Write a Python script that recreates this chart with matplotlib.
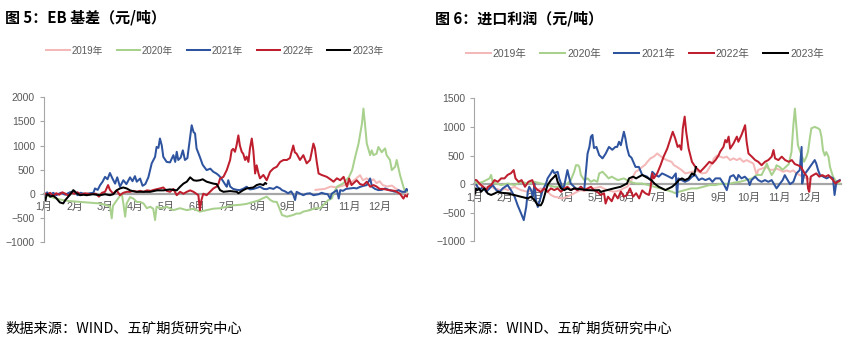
import matplotlib.pyplot as plt

plt.rcParams['font.family'] = ['Liberation Sans', 'Noto Sans CJK SC', 'DejaVu Sans']

# month labels on the category axis (positions are in months from Jan 1)
months = ['1月', '2月', '3月', '4月', '5月', '6月', '7月', '8月', '9月', '10月', '11月', '12月']
years = ['2019年', '2020年', '2021年', '2022年', '2023年']
colors = ['#F4B8B8', '#A9D18E', '#2E54A0', '#BE1E2D', '#000000']

# ---- 图5 EB基差 (x = month position, y = 元/吨)
eb_x_2019 = [8.9, 9.2, 9.4, 9.6, 9.8, 10.0, 10.2, 10.36, 10.45, 10.58, 10.7, 10.8, 10.9, 11.0, 11.1,
             11.25, 11.4, 11.55, 11.7, 11.85, 11.95]
eb_y_2019 = [80, 100, 150, 130, 170, 200, 300, 385, 280, 320, 260, 300, 220, 260, 180,
             150, 170, 100, 50, 20, -30]

eb_x_2020 = [0.05, 0.2, 0.4, 0.6, 0.8, 1.0, 1.2, 1.4, 1.6, 1.8, 2.0, 2.16, 2.22, 2.26, 2.38, 2.48, 2.55,
             2.6, 2.66, 2.71, 2.82, 2.93, 3.04, 3.15, 3.26, 3.37, 3.48, 3.58, 3.64, 3.69, 3.86, 4.02,
             4.24, 4.46, 4.68, 4.9, 5.11, 5.33, 5.55, 5.77, 5.99, 6.2, 6.42, 6.64, 6.86, 7.03, 7.15,
             7.3, 7.42, 7.52, 7.63, 7.74, 7.8, 7.96, 8.17, 8.28, 8.39, 8.5, 8.72, 8.88, 9.05, 9.21,
             9.32, 9.43, 9.49, 9.6, 9.7, 9.81, 10.0, 10.1, 10.2, 10.31, 10.42, 10.47, 10.52, 10.58,
             10.69, 10.74, 10.8, 10.9, 10.96, 11.07, 11.12, 11.18, 11.23, 11.34, 11.4, 11.51, 11.56,
             11.67, 11.78, 11.84, 11.93]
eb_y_2020 = [-30, -60, -100, -130, -150, -160, -170, -180, -190, -200, -230, -260, -510, -250, -140, -50, 0,
             -200, -475, -200, -70, -100, -170, -170, -200, -300, -270, -310, -545, -270, -300, -270,
             -340, -300, -340, -310, -370, -340, -310, -300, -270, -240, -230, -210, -170, -140, -100,
             -60, -130, -165, -170, -340, -440, -475, -440, -410, -410, -370, -340, -300, -300, -200,
             -130, -100, 0, 145, 180, 215, 350, 490, 765, 1040, 1450, 1765, 1450, 1040,
             800, 900, 800, 830, 970, 860, 900, 940, 800, 700, 490, 560, 700,
             385, 145, 40, 50]

eb_x_2021 = [0.05, 0.1, 0.2, 0.3, 0.4, 0.55, 0.7, 0.85, 1.0, 1.1, 1.2, 1.35, 1.5, 1.62, 1.67, 1.76, 1.84,
             1.92, 2.0, 2.08, 2.16, 2.24, 2.33, 2.4, 2.49, 2.55, 2.6, 2.7, 2.82, 2.9, 2.98, 3.04, 3.15,
             3.23, 3.32, 3.42, 3.53, 3.64, 3.69, 3.75, 3.8, 3.86, 3.91, 4.02, 4.13, 4.24, 4.3, 4.35,
             4.4, 4.48, 4.55, 4.62, 4.7, 4.77, 4.84, 4.9, 4.95, 5.0, 5.11, 5.2, 5.33, 5.45, 5.55, 5.65,
             5.72, 5.8, 5.88, 5.95, 5.99, 6.04, 6.1, 6.2, 6.33, 6.42, 6.55, 6.64, 6.75, 6.86, 6.97,
             7.08, 7.2, 7.3, 7.4, 7.52, 7.63, 7.74, 7.8, 7.9, 8.0, 8.1, 8.17, 8.23, 8.28, 8.4, 8.5,
             8.6, 8.72, 8.83, 9.0, 9.1, 9.2, 9.3, 9.38, 9.43, 9.6, 9.66, 9.71, 9.8, 9.9, 10.03, 10.15,
             10.25, 10.35, 10.45, 10.58, 10.69, 10.75, 10.85, 10.96, 11.07, 11.18, 11.3, 11.4, 11.51,
             11.62, 11.73, 11.84, 11.88, 11.93]
eb_y_2021 = [-20, 30, -40, 20, -30, 20, -20, 30, 50, -30, 20, -10, 10, 20, 110, 80, 180,
             250, 350, 300, 430, 320, 210, 340, 145, 220, 280, 200, 340, 260, 365, 250, 315,
             165, 200, 340, 630, 765, 970, 950, 1145, 1000, 765, 660, 650, 800, 660, 870,
             700, 750, 900, 700, 740, 1075, 1420, 1280, 1250, 940, 760, 600, 490, 520, 455, 420,
             385, 330, 250, 180, 145, 280, 150, 100, 80, 75, 110, 145, 90, 100, 120,
             145, 100, 95, 120, 100, 145, 110, 75, 50, 10, 50, -20, -130, 40, 0, -30,
             0, 10, -30, -10, 20, 0, -10, -100, 0, 75, -100, 75, 60, 100, 110, 120,
             110, 140, 160, 180, 317, 145, 100, 75, 80, 110, 80, 60, 40,
             75, 40, 40, 100, 70]

eb_x_2022 = [0.05, 0.1, 0.2, 0.3, 0.4, 0.5, 0.6, 0.7, 0.8, 0.9, 1.0, 1.1, 1.2, 1.35, 1.5, 1.7, 1.8, 1.9,
             2.0, 2.1, 2.16, 2.27, 2.38, 2.49, 2.6, 2.71, 2.82, 2.93, 3.04, 3.15, 3.26, 3.37, 3.5, 3.6,
             3.8, 3.91, 4.02, 4.13, 4.24, 4.35, 4.46, 4.57, 4.68, 4.79, 4.9, 5.06, 5.11, 5.16, 5.22,
             5.33, 5.44, 5.55, 5.66, 5.72, 5.77, 5.88, 5.99, 6.1, 6.15, 6.2, 6.26, 6.31, 6.37, 6.42,
             6.48, 6.53, 6.59, 6.64, 6.7, 6.75, 6.81, 6.86, 6.92, 6.97, 7.03, 7.08, 7.19, 7.3, 7.41,
             7.52, 7.63, 7.74, 7.85, 7.96, 8.06, 8.17, 8.22, 8.28, 8.39, 8.5, 8.61, 8.72, 8.83, 8.88,
             8.94, 9.0, 9.1, 9.27, 9.43, 9.49, 9.6, 9.71, 9.82, 9.93, 10.0, 10.08, 10.25, 10.36, 10.47,
             10.58, 10.69, 10.8, 10.9, 11.0, 11.12, 11.3, 11.5, 11.67, 11.78, 11.84, 11.9, 11.93]
eb_y_2022 = [0, -30, 20, -50, 10, -20, 30, 0, -40, 20, 0, 30, -20, 10, -10, 0, -60, 20,
             40, 180, 80, 0, 70, -30, 20, 40, 40, 60, 40, 60, 40, 70, 60, 80,
             110, 130, 60, 40, 100, -30, 40, 0, 40, 70, 40, -30, -340, -130, 0,
             -30, 40, 110, 150, 210, 315, 350, 490, 700, 900, 930, 870, 1000, 1210, 1000,
             870, 830, 700, 770, 660, 940, 1145, 900, 420, 590, 420, 320, 390, 280, 455,
             525, 560, 660, 700, 700, 740, 1000, 860, 830, 700, 800, 630, 700, 1040, 940,
             660, 420, 390, 350, 280, 250, 320, 280, 350, 145, 315, 180, 280, 200, 180,
             250, 145, 180, 150, 100, 100, 75, 60, 0, -100, -30, -60, -20]

eb_x_2023 = [0.05, 0.07, 0.1, 0.15, 0.2, 0.3, 0.4, 0.52, 0.63, 0.7, 0.85, 0.96, 1.07, 1.18, 1.3, 1.4, 1.6,
             1.84, 2.0, 2.16, 2.27, 2.38, 2.49, 2.6, 2.71, 2.82, 2.93, 3.04, 3.26, 3.48, 3.7, 3.91, 4.13,
             4.35, 4.46, 4.57, 4.68, 4.79, 4.9, 5.0, 5.11, 5.2, 5.33, 5.44, 5.55, 5.66, 5.77, 5.88, 6.1,
             6.32, 6.37, 6.53, 6.64, 6.86, 6.97, 7.08, 7.19, 7.25, 7.28]
eb_y_2023 = [-130, -60, -10, -20, -60, -40, -90, -180, -200, -130, -20, 75, 10, -30, -20, -30, -10,
             -30, -10, -30, -10, 70, 110, 130, 110, 70, 50, 40, 40, 40, 70, 70, 90,
             70, 145, 210, 250, 340, 280, 270, 280, 300, 250, 230, 210, 200, 75, 40, 55,
             40, 10, 75, 110, 130, 180, 200, 180, 225, 210]

# ---- 图6 进口利润
ip_x_2019 = [0.05, 0.12, 0.23, 0.34, 0.45, 0.55, 0.66, 0.77, 0.88, 1.0, 1.1, 1.2, 1.32, 1.43, 1.53, 1.64,
             1.75, 1.86, 1.97, 2.08, 2.18, 2.29, 2.4, 2.51, 2.62, 2.73, 2.84, 2.95, 3.05, 3.16, 3.27,
             3.38, 3.49, 3.6, 3.71, 3.82, 3.92, 4.03, 4.14, 4.25, 4.36, 4.47, 4.58, 4.69, 4.79, 4.9,
             5.01, 5.12, 5.28, 5.39, 5.5, 5.6, 5.67, 5.77, 5.88, 5.99, 6.06, 6.2, 6.3, 6.46, 6.54,
             6.64, 6.78, 6.91, 7.02, 7.13, 7.3, 7.46, 7.6, 7.75, 7.85, 7.95, 8.05, 8.16, 8.27, 8.38,
             8.49, 8.6, 8.7, 8.81, 8.92, 9.03, 9.14, 9.2, 9.25, 9.3, 9.41, 9.57, 9.68, 9.79, 9.9, 10.0,
             10.12, 10.23, 10.34, 10.45, 10.55, 10.66, 10.77, 10.88, 11.0]
ip_y_2019 = [-20, 10, -17, -47, -75, -40, -75, -90, -105, -80, -105, -70, -47, -80, -105, -120,
             -135, -110, -135, -100, -75, -110, -135, -190, -220, -230, -250, -240, -220, -190, -163,
             -130, -105, -120, -105, -90, -75, -60, -47, -80, -105, -120, -135, -120, -105, -70,
             -47, 40, 215, 250, 300, 340, 390, 450, 480, 535, 505, 450, 420, 390, 330,
             300, 250, 187, 200, 215, 230, 187, 200, 330, 450, 500, 480, 460, 480, 420,
             450, 420, 450, 390, 420, 390, 360, 250, 157, 250, 270, 300, 250, 250, 270, 250,
             215, 240, 215, 240, 187, 157, 128, 100, 90]

ip_x_2020 = [0.03, 0.07, 0.17, 0.28, 0.39, 0.5, 0.55, 0.6, 0.72, 0.88, 1.1, 1.32, 1.53, 1.75, 1.97, 2.18,
             2.4, 2.62, 2.84, 3.05, 3.16, 3.27, 3.33, 3.4, 3.44, 3.49, 3.6, 3.71, 3.82, 3.92, 4.03,
             4.09, 4.2, 4.3, 4.4, 4.5, 4.6, 4.7, 4.9, 5.1, 5.3, 5.5, 5.7, 5.9, 6.1, 6.3, 6.48, 6.59,
             6.7, 6.9, 7.1, 7.3, 7.5, 7.7, 7.9, 8.1, 8.3, 8.5, 8.7, 8.9, 9.1, 9.25, 9.41, 9.52, 9.58,
             9.64, 9.74, 9.85, 9.9, 10.0, 10.1, 10.2, 10.3, 10.39, 10.45, 10.5, 10.55, 10.6, 10.7,
             10.8, 10.88, 10.93, 10.99, 11.04, 11.15, 11.26, 11.32, 11.37, 11.42, 11.48, 11.53, 11.6,
             11.65, 11.75, 11.86, 11.97]
ip_y_2020 = [70, 0, 20, 40, 70, 100, 160, 40, 10, -17, 10, -17, 40, 10, 40, 10,
             -17, -47, -47, 10, 70, 215, 330, 330, 300, 160, 70, 100, 40, 70, 40,
             187, 215, 160, 100, 130, 100, 70, 100, 40, 10, 10, -17, -47, -75, -105, -135, -160,
             -135, -105, -75, -75, -47, -17, -17, 10, 0, 25, 40, 70, 100, 160, 160, 275, 360,
             275, 157, 250, 330, 300, 250, 300, 350, 565, 1030, 1320, 1000, 680, 530,
             390, 480, 565, 800, 975, 1000, 975, 950, 830, 595, 500, 560, 480,
             300, 128, 40, 10]

ip_x_2021 = [0.07, 0.17, 0.28, 0.39, 0.5, 0.6, 0.72, 0.83, 0.93, 1.09, 1.2, 1.32, 1.42, 1.53, 1.62, 1.7,
             1.75, 1.8, 1.86, 1.92, 1.97, 2.02, 2.08, 2.13, 2.18, 2.24, 2.35, 2.4, 2.51, 2.57, 2.62,
             2.73, 2.78, 2.84, 2.89, 2.95, 3.05, 3.1, 3.16, 3.27, 3.38, 3.49, 3.6, 3.65, 3.71, 3.77,
             3.82, 3.87, 3.92, 4.0, 4.09, 4.2, 4.3, 4.41, 4.52, 4.62, 4.68, 4.74, 4.8, 4.9, 4.95, 5.0,
             5.07, 5.15, 5.28, 5.39, 5.5, 5.66, 5.77, 5.83, 5.93, 6.04, 6.15, 6.26, 6.37, 6.48, 6.6,
             6.64, 6.68, 6.9, 7.02, 7.13, 7.24, 7.35, 7.46, 7.57, 7.7, 7.8, 7.9, 8.05, 8.16, 8.27,
             8.38, 8.49, 8.6, 8.65, 8.75, 8.86, 8.97, 9.02, 9.08, 9.2, 9.3, 9.41, 9.52, 9.63, 9.74,
             9.9, 10.0, 10.1, 10.17, 10.23, 10.34, 10.45, 10.55, 10.66, 10.72, 10.74, 10.8, 10.92,
             11.03, 11.15, 11.2, 11.26, 11.32, 11.43, 11.54, 11.65, 11.75, 11.8, 11.86, 11.97]
ip_y_2021 = [-17, -105, -47, -135, -75, -17, -105, -135, -75, -17, -105, -220, -370, -510, -630, -400,
             -135, -47, -105, -220, 10, -280, -400, -310, -220, -105, 10, 100, 190, 245, 190,
             215, 100, 10, -105, -17, 245, 130, 10, -47, -105, -47, -105, 190, 535, 650,
             830, 860, 630, 650, 507, 450, 530, 650, 600, 650, 650, 740, 680, 915, 800, 640,
             500, 460, 300, 300, 160, 130, 70, 215, 160, 130, 187, 160, 130, 100, 187,
             -220, 100, 40, 70, 128, 160, 70, 100, 70, 100, 40, 100, 100, 10, -105,
             130, 157, 70, 160, 100, 130, 70, -17, 70, 130, 70, 40, 70, 40, 70,
             -75, 0, 70, 157, 100, 0, 40, 187, 245, 650, 10, 160, 245,
             330, 420, 360, 245, 160, 130, 100, 130, 100, -190, 40, 70]

ip_x_2022 = [0.03, 0.07, 0.17, 0.28, 0.39, 0.45, 0.55, 0.66, 0.77, 0.88, 0.99, 1.09, 1.2, 1.29, 1.35, 1.45,
             1.55, 1.66, 1.77, 1.9, 1.97, 2.08, 2.18, 2.29, 2.4, 2.51, 2.62, 2.73, 2.84, 2.95, 3.05,
             3.16, 3.27, 3.38, 3.49, 3.6, 3.71, 3.82, 3.92, 4.03, 4.14, 4.25, 4.3, 4.38, 4.5, 4.6, 4.7,
             4.8, 4.9, 5.0, 5.1, 5.2, 5.3, 5.4, 5.5, 5.6, 5.72, 5.77, 5.83, 5.88, 5.99, 6.1, 6.2,
             6.32, 6.43, 6.5, 6.58, 6.66, 6.72, 6.78, 6.83, 6.89, 6.94, 7.02, 7.13, 7.24, 7.4, 7.55,
             7.7, 7.8, 7.9, 8.0, 8.05, 8.16, 8.22, 8.27, 8.33, 8.38, 8.49, 8.6, 8.65, 8.76, 8.87, 8.92,
             8.98, 9.09, 9.2, 9.3, 9.41, 9.52, 9.63, 9.74, 9.8, 9.85, 9.96, 10.07, 10.18, 10.3, 10.4,
             10.5, 10.6, 10.7, 10.82, 10.9, 10.93, 10.97, 11.02, 11.1, 11.2, 11.3, 11.4, 11.5, 11.6,
             11.7, 11.75, 11.83, 11.9, 11.97]
ip_y_2022 = [70, 70, 10, -47, -105, -47, -17, 70, 40, 100, 100, 160, 190, 245, 100, 40,
             70, -47, 40, 70, -47, -105, -135, -75, -135, -75, -105, -75, -135, -75, -47,
             -105, -75, -105, -47, -105, -75, -47, -105, -135, -190, -160, -340, -220, -300, -170, -250,
             -130, -220, -190, -75, -220, -160, -250, -110, -160, -190, -75, 187, 100, 187, 330, 480,
             620, 800, 915, 800, 650, 680, 600, 975, 1180, 915, 620, 390, 300, 215, 300,
             390, 360, 420, 500, 565, 650, 770, 730, 830, 620, 710, 830, 740, 870, 1030, 740,
             535, 480, 420, 390, 330, 390, 420, 480, 595, 450, 420, 480, 420, 390, 420,
             350, 330, 300, 187, 130, -75, -135, 130, 157, 187, 130, 157, 130, 157,
             100, 70, 10, 40, 60]

ip_x_2023 = [0.03, 0.05, 0.1, 0.16, 0.22, 0.33, 0.44, 0.55, 0.66, 0.77, 0.88, 1.09, 1.3, 1.52, 1.75, 1.86,
             1.97, 2.08, 2.18, 2.24, 2.29, 2.35, 2.4, 2.51, 2.62, 2.67, 2.73, 2.84, 2.95, 3.05, 3.16,
             3.27, 3.49, 3.71, 3.92, 4.09, 4.14, 4.35, 4.57, 4.79, 5.0, 5.07, 5.2, 5.3, 5.4, 5.5, 5.6,
             5.7, 5.8, 5.9, 6.04, 6.15, 6.26, 6.37, 6.48, 6.6, 6.7, 6.8, 6.9, 7.02, 7.13, 7.2, 7.26]
ip_y_2023 = [-165, -75, -105, -75, -135, -75, -165, -190, -165, -135, -150, -165, -190, -220, -250, -220,
             -280, -370, -370, -310, -220, -105, -17, 70, 130, 160, 40, -75, -105, -75, -105,
             -75, -90, -105, -110, -105, -135, -105, -75, -47, 10, 100, 130, 100, 130, 160, 130,
             100, 70, 10, -47, -75, -105, -75, -47, 10, 70, 100, 70, 100, 187, 160, 300]

grey = '#595959'
cjk = ['Noto Sans CJK SC', 'DejaVu Sans']

fig = plt.figure(figsize=(8.58, 3.43), dpi=100)
ax1 = fig.add_axes([0.0513, 0.2945, 0.4242, 0.4219])
ax2 = fig.add_axes([0.5528, 0.2965, 0.4270, 0.4169])

panels = [
    (ax1, [(eb_x_2019, eb_y_2019), (eb_x_2020, eb_y_2020), (eb_x_2021, eb_y_2021),
           (eb_x_2022, eb_y_2022), (eb_x_2023, eb_y_2023)],
     (-1000, 2000), range(-1000, 2001, 500), 11.93),
    (ax2, [(ip_x_2019, ip_y_2019), (ip_x_2020, ip_y_2020), (ip_x_2021, ip_y_2021),
           (ip_x_2022, ip_y_2022), (ip_x_2023, ip_y_2023)],
     (-1000, 1500), range(-1000, 1501, 500), 12.0),
]

for ax, series, ylim, yticks, xmax in panels:
    for (xs, ys), c, lab in zip(series, colors, years):
        ax.plot(xs, ys, color=c, lw=1.45, label=lab, solid_joinstyle='round')
    ax.set_xlim(0, xmax)
    ax.set_ylim(*ylim)
    ax.set_yticks(list(yticks))
    ax.set_xticks(range(12))
    ax.set_xticklabels(months)
    for s in ['top', 'right']:
        ax.spines[s].set_visible(False)
    # category axis crosses at zero, like the Excel original
    ax.spines['bottom'].set_position(('data', 0))
    ax.spines['bottom'].set_color('#A6A6A6')
    ax.spines['bottom'].set_linewidth(1.6)
    ax.spines['bottom'].set_zorder(0.5)
    ax.spines['left'].set_color('#A6A6A6')
    ax.spines['left'].set_linewidth(0.8)
    ax.tick_params(axis='y', colors='#A6A6A6', labelcolor=grey, labelsize=7.5, length=3, width=0.8)
    ax.tick_params(axis='x', length=0, labelcolor=grey, labelsize=7.8, pad=6)
    ax.patch.set_visible(False)

ax1.legend(loc='center', bbox_to_anchor=(0.2505, 0.852), bbox_transform=fig.transFigure, ncol=5,
           frameon=False, fontsize=7, labelcolor=grey, handlelength=2.4, handletextpad=0.2,
           columnspacing=1.4)
ax2.legend(loc='center', bbox_to_anchor=(0.7515, 0.843), bbox_transform=fig.transFigure, ncol=5,
           frameon=False, fontsize=7.5, labelcolor=grey, handlelength=2.4, handletextpad=0.2,
           columnspacing=1.3)

fig.text(0.006, 0.95, '图 5：EB 基差（元/吨）', fontsize=10.8, fontweight='bold', va='center', family=cjk)
fig.text(0.507, 0.947, '图 6：进口利润（元/吨）', fontsize=10.8, fontweight='bold', va='center', family=cjk)
fig.text(0.006, 0.043, '数据来源：WIND、五矿期货研究中心', fontsize=10.3, va='center', family=cjk)
fig.text(0.507, 0.043, '数据来源：WIND、五矿期货研究中心', fontsize=10.3, va='center', family=cjk)

fig.savefig('out.png', dpi=100)
